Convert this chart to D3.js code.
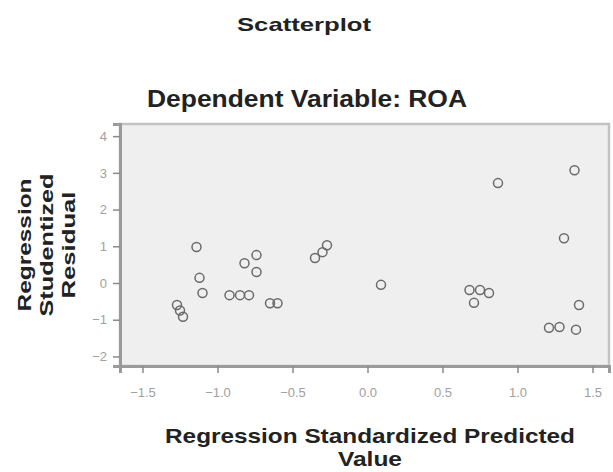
<!DOCTYPE html>
<html>
<head>
<meta charset="utf-8">
<script src="https://cdn.jsdelivr.net/npm/d3@7"></script>
<style>
  body { margin: 0; background: #fff; }
  text { font-family: "Liberation Sans", Arial, sans-serif; }
</style>
</head>
<body>
<div id="graph"></div>
<script>
var width = 613, height = 472;

// predicted values (x) and studentized residuals (y)
var predicted = [-1.14, -1.12, -1.10, -1.27, -1.25, -1.23, -0.82, -0.74, -0.74,
  -0.92, -0.85, -0.79, -0.65, -0.60, -0.27, -0.30, -0.35, 0.09,
  0.87, 1.38, 1.31, 0.68, 0.75, 0.81, 0.71, 1.41, 1.21, 1.28, 1.39];
var residual = [0.98, 0.14, -0.27, -0.60, -0.75, -0.92, 0.54, 0.76, 0.30,
  -0.33, -0.33, -0.33, -0.55, -0.55, 1.03, 0.84, 0.68, -0.05,
  2.72, 3.07, 1.22, -0.19, -0.19, -0.27, -0.54, -0.60, -1.22, -1.20, -1.27];
var xTicks = [-1.5, -1.0, -0.5, 0.0, 0.5, 1.0, 1.5];
var yTicks = [-2, -1, 0, 1, 2, 3, 4];

var plot = {left: 120, right: 609, top: 124, bottom: 366};

var x = d3.scaleLinear().domain([-1.65, 1.61]).range([plot.left, plot.right]);
var y = d3.scaleLinear().domain([-2.26, 4.33]).range([plot.bottom, plot.top]);

var svg = d3.select("#graph").append("svg")
  .attr("width", width)
  .attr("height", height);

// plot background
svg.append("rect")
  .attr("x", plot.left).attr("y", plot.top)
  .attr("width", plot.right - plot.left)
  .attr("height", plot.bottom - plot.top)
  .attr("fill", "#efefef")
  .attr("stroke", "#c2c2c2")
  .attr("stroke-width", 2.5);

// axes
var xAxis = d3.axisBottom(x).tickValues(xTicks).tickSize(7)
  .tickFormat(d3.format(".1f"));
var yAxis = d3.axisLeft(y).tickValues(yTicks).tickSize(7).tickPadding(6)
  .tickFormat(d3.format("d"));

var gx = svg.append("g")
  .attr("transform", "translate(0," + plot.bottom + ")")
  .call(xAxis);
var gy = svg.append("g")
  .attr("transform", "translate(" + plot.left + ",0)")
  .call(yAxis);

[gx, gy].forEach(function(g) {
  g.select(".domain").attr("stroke", "#9a9a9a").attr("stroke-width", 3);
  g.selectAll(".tick line").attr("stroke", "#8a8a8a").attr("stroke-width", 1.5);
  g.selectAll(".tick text").attr("fill", "#a0a0a0").attr("font-size", 13);
});
gx.selectAll(".tick text").attr("dy", "1.6em");

// points
svg.append("g").selectAll("circle")
  .data(predicted)
  .enter()
  .append("circle")
  .attr("cx", function(d) { return x(d); })
  .attr("cy", function(d, i) { return y(residual[i]); })
  .attr("r", 4.5)
  .attr("fill", "none")
  .attr("stroke", "#6a6a6a")
  .attr("stroke-width", 1.5);

// titles (the original is stretched sideways, so fix the text widths)
function title(txt, cx, base, size, len) {
  svg.append("text")
    .attr("x", cx).attr("y", base)
    .attr("text-anchor", "middle")
    .attr("font-size", size).attr("font-weight", "bold")
    .attr("fill", "#222")
    .attr("textLength", len)
    .attr("lengthAdjust", "spacingAndGlyphs")
    .text(txt);
}
title("Scatterplot", 304, 31, 19, 134);
title("Dependent Variable: ROA", 307, 107, 24, 320);
title("Regression Standardized Predicted", 370, 443, 21, 410);
title("Value", 370, 466, 21, 64);

// y axis title
var yLabel = ["Regression", "Studentized", "Residual"];
var yLabelLen = [133, 143, 107];
svg.append("g")
  .attr("transform", "translate(31,245) rotate(-90)")
  .selectAll("text")
  .data(yLabel)
  .enter()
  .append("text")
  .attr("x", 0)
  .attr("y", function(d, i) { return i * 22; })
  .attr("text-anchor", "middle")
  .attr("font-size", 19).attr("font-weight", "bold")
  .attr("fill", "#222")
  .attr("textLength", function(d, i) { return yLabelLen[i]; })
  .attr("lengthAdjust", "spacingAndGlyphs")
  .text(function(d) { return d; });
</script>
</body>
</html>
